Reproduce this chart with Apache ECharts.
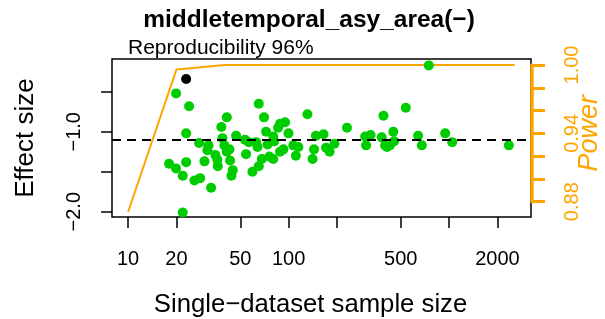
<!DOCTYPE html>
<html>
<head>
<meta charset="utf-8">
<script src="https://cdn.jsdelivr.net/npm/echarts@6/dist/echarts.min.js"></script>
<style>
  html, body { margin: 0; padding: 0; background: #fff; }
  #chart { width: 605px; height: 319px; }
</style>
</head>
<body>
<div id="chart"></div>
<script>
// subsample sizes and effect sizes (green points)
const sampleSize = [
  19.9, 24, 23, 18, 19.9, 23, 21.9, 25.9, 28.1, 32.9, 21.9, 29.9, 27.7, 31.7, 31.2,
  35, 36, 36.2, 41.2, 38.1, 38.7, 39.8, 41.2, 42.8, 43.2, 44.9, 44, 47.1, 54.3,
  53.5, 56.5, 59.5, 65.2, 70.3, 62.7, 64, 68.1, 65.2, 72.4, 73.9, 75.9,
  131, 231, 95, 88.5, 86, 99.8, 80.3, 81.2, 107, 115, 148, 165, 144, 171, 180,
  193, 88.5, 80.3, 92.9, 111, 141, 300, 304, 324,
  747, 537, 390, 380, 449, 399, 454, 428, 410, 641, 676, 945, 1045, 2355
]
const effectSize = [
  -0.52, -0.68, -1.02, -1.40, -1.46, -1.38, -1.55, -1.61, -1.58, -1.70, -2.01, -1.37, -1.14, -1.17, -1.23,
  -1.29, -1.35, -1.43, -0.82, -0.94, -1.08, -1.17, -1.25, -1.22, -1.36, -1.48, -1.55, -1.05, -1.28,
  -1.10, -1.13, -1.50, -0.65, -0.82, -1.13, -1.19, -1.34, -1.43, -1.00, -1.16, -1.31,
  -0.78, -0.95, -0.88, -0.90, -0.95, -1.02, -1.06, -1.12, -1.17, -1.19, -1.05, -1.03, -1.22, -1.20, -1.25,
  -1.15, -1.25, -1.34, -1.22, -1.30, -1.34, -1.06, -1.17, -1.04,
  -0.17, -0.70, -0.80, -1.07, -1.00, -1.17, -1.12, -1.17, -1.19, -1.05, -1.17, -1.02, -1.13, -1.17
]
// full dataset (black point)
const fullSize = [23]
const fullEffect = [-0.34]
// power curve
const powerSize = [10, 20, 40, 80, 160, 320, 640, 1280, 2560]
const powerValue = [0.871, 0.996, 1, 1, 1, 1, 1, 1, 1]
const refEffect = -1.1

const xTicks = [10, 20, 50, 100, 200, 500, 1000, 2000]
const xLabels = [10, 20, 50, 100, 500, 2000]
const yTicks = [-2, -1.5, -1, -0.5]
const yLabels = [-2, -1]
const powerTicks = [0.88, 0.9, 0.92, 0.94, 0.96, 0.98, 1.0]
const powerLabels = [0.88, 0.94, 1.0]

const font = 'Liberation Sans, Arial, sans-serif'
const orange = '#FFA500'
const minus = v => (v < 0 ? '\u2212' : '') + Math.abs(v).toFixed(1)

const chart = echarts.init(document.getElementById('chart'))
chart.setOption({
  animation: false,
  backgroundColor: '#fff',
  textStyle: { fontFamily: font },
  title: [
    {
      text: 'Reproducibility 96%',
      left: 128,
      top: 38,
      padding: 0,
      textStyle: { fontSize: 21, fontWeight: 'normal', color: '#000', fontFamily: font }
    }
  ],
  graphic: [
    {
      type: 'text', x: 309, y: 8,
      style: {
        text: 'middletemporal_asy_area(\u2212)', textAlign: 'center', textVerticalAlign: 'top',
        fontSize: 24.5, fontWeight: 'bold', fill: '#000', fontFamily: font
      }
    }
  ],
  grid: [
    { left: 112, right: 74, top: 59, bottom: 102, outerBoundsMode: 'none', show: true, borderColor: '#000', borderWidth: 1.5, backgroundColor: 'transparent' },
    { left: 112, right: 73, top: 65, bottom: 117.3, outerBoundsMode: 'none', show: false }
  ],
  xAxis: [
    {
      type: 'log', gridIndex: 0, logBase: 10, min: 7.94, max: 3236,
      axisLine: { show: false },
      axisTick: { show: true, inside: false, length: 11, customValues: xTicks, lineStyle: { color: '#000', width: 1.5 } },
      axisLabel: { customValues: xLabels, fontSize: 20, color: '#000', margin: 32, fontFamily: font, formatter: v => String(v) },
      splitLine: { show: false },
      name: 'Single\u2212dataset sample size', nameLocation: 'middle', nameGap: 75,
      nameTextStyle: { fontSize: 25.7, color: '#000', fontFamily: font, padding: [0, 22, 0, 0] }
    },
    { type: 'value', gridIndex: 1, show: false, min: 0, max: 1 }
  ],
  yAxis: [
    {
      type: 'value', gridIndex: 0, min: -2.066, max: -0.09, position: 'left',
      axisLine: { show: false, onZero: false },
      axisTick: { show: true, inside: false, length: 11, customValues: yTicks, lineStyle: { color: '#000', width: 1.5 } },
      axisLabel: { customValues: yLabels, rotate: 90, fontSize: 20, color: '#000', margin: 28, fontFamily: font, formatter: minus },
      splitLine: { show: false },
      name: 'Effect size', nameLocation: 'middle', nameGap: 73, nameRotate: 90, nameMoveOverlap: false,
      nameTextStyle: { fontSize: 26, color: '#000', fontFamily: font }
    },
    { type: 'value', gridIndex: 0, min: 0.8666, max: 1.0053, show: false },
    {
      type: 'value', gridIndex: 1, position: 'right', min: 0.88, max: 1.0,
      axisLine: { show: true, onZero: false, lineStyle: { color: orange, width: 3.5 } },
      axisTick: { show: true, inside: false, length: 13, customValues: powerTicks, lineStyle: { color: orange, width: 3 } },
      axisLabel: { customValues: powerLabels, rotate: 90, fontSize: 20, color: orange, margin: 30, fontFamily: font, formatter: v => v.toFixed(2) },
      splitLine: { show: false },
      name: 'Power', nameLocation: 'middle', nameGap: 44, nameRotate: 90, nameMoveOverlap: false,
      nameTextStyle: { fontSize: 27, fontStyle: 'italic', color: orange, fontFamily: font }
    }
  ],
  series: [
    {
      name: 'power', type: 'line', xAxisIndex: 0, yAxisIndex: 1, z: 1,
      data: powerSize.map((n, i) => [n, powerValue[i]]),
      showSymbol: false, lineStyle: { color: orange, width: 2 }, itemStyle: { color: orange }
    },
    {
      name: 'subsamples', type: 'scatter', xAxisIndex: 0, yAxisIndex: 0, z: 3,
      data: sampleSize.map((n, i) => [n, effectSize[i]]),
      symbolSize: 10, itemStyle: { color: '#00CD00', opacity: 1 },
      markLine: {
        silent: true, symbol: 'none', label: { show: false },
        lineStyle: { color: '#000', width: 2, type: [9, 6] },
        data: [{ yAxis: refEffect }]
      }
    },
    {
      name: 'full', type: 'scatter', xAxisIndex: 0, yAxisIndex: 0, z: 4,
      data: fullSize.map((n, i) => [n, fullEffect[i]]),
      symbolSize: 10, itemStyle: { color: '#000', opacity: 1 }
    }
  ]
})
</script>
</body>
</html>
